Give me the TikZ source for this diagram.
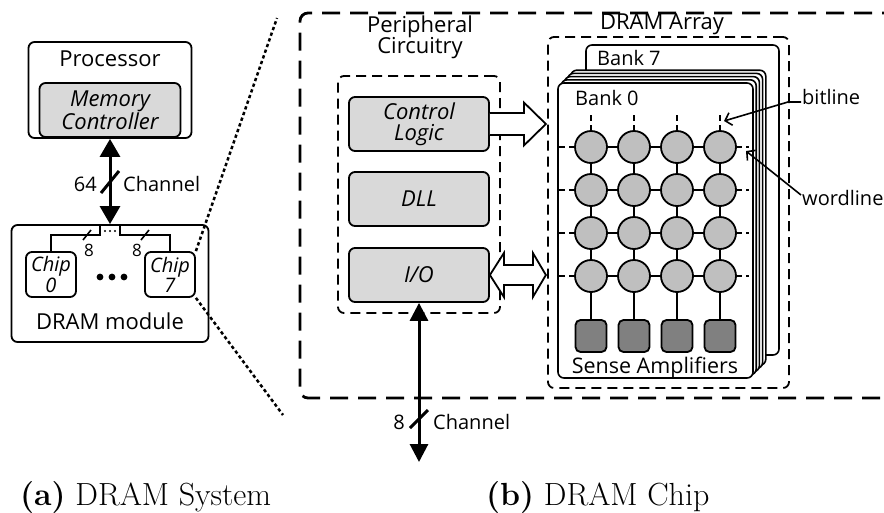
\documentclass[tikz,border=0pt]{standalone}
\usepackage{fontspec}
\newfontfamily\osans{Open Sans}
\usetikzlibrary{arrows.meta,calc}
\definecolor{lgray}{HTML}{D9D9D9}
\definecolor{cgray}{HTML}{BFBFBF}
\definecolor{dgray}{HTML}{808080}
\begin{document}
\begin{tikzpicture}[x=1pt,y=-1pt,
  txt/.style={font=\osans\fontsize{20}{21}\selectfont, inner sep=0pt, align=center},
  ttl/.style={font=\osans\fontsize{22}{21.5}\selectfont, inner sep=0pt, align=center},
  itxt/.style={font=\osans\itshape\fontsize{22}{21}\selectfont, inner sep=0pt, align=center},
  smalltxt/.style={font=\osans\fontsize{17}{18}\selectfont, inner sep=0pt},
  outerbox/.style={draw, line width=1.8pt, rounded corners=6pt, fill=white, inner sep=0pt},
  graybox/.style={draw, line width=1.8pt, rounded corners=6pt, fill=lgray, inner sep=0pt},
  bankbox/.style={draw, line width=1.6pt, rounded corners=6pt, fill=white},
  dashbox/.style={draw, line width=1.8pt, dash pattern=on 10pt off 6pt, rounded corners=6pt},
  bigdash/.style={draw, line width=2.8pt, dash pattern=on 18pt off 10pt, rounded corners=8pt},
  bus/.style={line width=3pt, {Triangle[length=18pt,width=20pt]}-{Triangle[length=18pt,width=20pt]}},
  slashline/.style={line width=3pt},
  thinline/.style={line width=1.6pt},
  zoomline/.style={line width=2.5pt, dash pattern=on 3.3pt off 2.7pt},
  blockarrow/.style={draw, line width=1.8pt, fill=white, line join=miter},
  cell/.style={circle, draw, line width=1.8pt, fill=cgray, minimum size=32pt, inner sep=0pt},
  amp/.style={draw, line width=1.8pt, fill=dgray, rounded corners=5pt, minimum width=31pt, minimum height=32pt, inner sep=0pt},
  stub/.style={line width=1.6pt, dash pattern=on 6pt off 4pt},
  ptr/.style={line width=1.6pt, -{Straight Barb[length=6pt,width=13pt]}},
  caption/.style={font=\fontsize{32}{34}\selectfont, inner sep=0pt, anchor=base west}
]
\useasboundingbox (0,0) rectangle (884,512);
\clip (0,0) rectangle (884,512);

% ---------------- (a) DRAM System ----------------
\node[outerbox, minimum width=163pt, minimum height=96pt] (proc) at (110,90) {};
\node[ttl] (proctxt) at (110,59) {Processor};
\node[graybox, minimum width=141pt, minimum height=54pt, itxt] (mc) at (110,110) {Memory\\Controller};

\node[outerbox, minimum width=197pt, minimum height=117pt] (mod) at (110,283.5) {};
\node[ttl] (modtxt) at (110,321) {DRAM module};

\node[outerbox, minimum width=50pt, minimum height=45pt, itxt, font=\osans\itshape\fontsize{20}{19}\selectfont] (chip0) at (51,274.5) {Chip\\0};
\node[outerbox, minimum width=50pt, minimum height=45pt, itxt, font=\osans\itshape\fontsize{20}{19}\selectfont] (chip7) at (170,274.5) {Chip\\7};

\draw[bus] (proc.south) -- (mod.north);
\coordinate (s64) at (110,182);
\draw[slashline] ($(s64)+(-9,11)$) -- ($(s64)+(9,-11)$);
\node[txt, anchor=east] (l64) at (97,184) {64};
\node[txt, anchor=west] (ch64) at (123,184) {Channel};

\coordinate (busL) at (100,225);
\coordinate (busR) at (120,225);
\draw[thinline] (busL) -- ++(0,10) -| (chip0.north);
\draw[thinline] (busR) -- ++(0,10) -| (chip7.north);
\foreach \xx in {105,110,115} \fill (\xx,231) circle (1.1pt);
\draw[thinline] (83,240) -- (91,230);
\draw[thinline] (141,240) -- (149,230);
\node[smalltxt] (n8a) at (89,250) {8};
\node[smalltxt] (n8b) at (137,250) {8};
\foreach \xx in {100,112,124} \fill (\xx,277) circle (3.4pt);

\node[caption] (capa) at (20,505) {\textbf{(a)} DRAM System};

% ---------------- zoom lines ----------------
\coordinate (ztop) at (277,18);
\coordinate (zbot) at (283,415);
\draw[zoomline] (chip7.north east) -- (ztop);
\draw[zoomline] (chip7.south east) -- (zbot);

% ---------------- (b) DRAM Chip ----------------
\draw[bigdash] (900,13) -- (300,13) -- (300,398) -- (900,398);

\node[ttl] (pctxt) at (420,37.5) {Peripheral\\Circuitry};
\node[dashbox, minimum width=162pt, minimum height=237pt] (periph) at (419,194.5) {};
\node[graybox, minimum width=140pt, minimum height=54pt, itxt] (ctrl) at (419,124) {Control\\Logic};
\node[graybox, minimum width=140pt, minimum height=54pt, itxt] (dll) at (419,199) {DLL};
\node[graybox, minimum width=140pt, minimum height=54pt, itxt] (io) at (419,275) {I/O};

% block arrows
\draw[blockarrow] ($(ctrl.east)+(0,-11)$) -- ++(34,0) -- ++(0,-10.5) -- ++(22,21.5) -- ++(-22,21.5) -- ++(0,-10.5) -- ++(-34,0);
\draw[blockarrow] (io.east) -- ++(14,-22) -- ++(0,12) -- ++(29,0) -- ++(0,-12) -- ++(13,22) -- ++(-13,22) -- ++(0,-12) -- ++(-29,0) -- ++(0,12) -- cycle;

% channel of chip
\coordinate (chanend) at (419,462);
\draw[line width=3pt, {Triangle[length=18pt,width=18pt]}-{Triangle[length=18pt,width=18pt]}] (io.south) -- (chanend);
\coordinate (s8) at (419,419);
\draw[slashline] ($(s8)+(-9,9)$) -- ($(s8)+(9,-9)$);
\node[txt, anchor=east] (l8) at (405,422) {8};
\node[txt, anchor=west] (ch8) at (433,422) {Channel};

% DRAM array
\node[ttl] (arrtxt) at (662,24) {DRAM Array};
\node[dashbox, minimum width=241pt, minimum height=351pt] (arr) at (668.5,212.5) {};

\path[bankbox] (586,45) rectangle (779,355);
\node[txt, anchor=west] (b7) at (597,58) {Bank 7};
\foreach \k in {4,3,2,1} {
  \path[bankbox] ($(558,83)+(3.2*\k,-3.2*\k)$) rectangle ($(753,378)+(3.2*\k,-3.2*\k)$);
}
\path[bankbox] (558,83) rectangle (753,378);
\node[txt, anchor=west] (b0) at (575,98) {Bank 0};

% grid lines
\foreach \r/\yy in {1/147,2/190,3/233,4/276} {
  \draw[stub] (559,\yy) -- (575,\yy);
  \draw[thinline] (591,\yy) -- (720,\yy);
  \draw[stub] (736,\yy) -- (749,\yy);
}
\foreach \c/\xx in {1/591,2/634,3/677,4/720} {
  \draw[stub] (\xx,115) -- (\xx,131);
  \node[amp] (sa\c) at (\xx,336) {};
  \draw[thinline] (\xx,147) -- (sa\c.north);
}
\foreach \r/\yy in {1/147,2/190,3/233,4/276} {
  \foreach \c/\xx in {1/591,2/634,3/677,4/720} {
    \node[cell] (c\r\c) at (\xx,\yy) {};
  }
}
\node[font=\osans\fontsize{21.5}{22}\selectfont, inner sep=0pt] (satxt) at (655,368) {Sense Amplifiers};

% labels
\node[txt, anchor=west] (bl) at (802,97) {bitline};
\node[txt, anchor=west] (wl) at (802,198) {wordline};
\coordinate (bltip) at (724,121);
\coordinate (wltip) at (746,151);
\draw[ptr] ($(bl.west)+(-1,5)$) -- ++(-13,0) -- (bltip);
\draw[ptr] ($(wl.west)+(-1,-3)$) -- (wltip);

\node[caption] (capb) at (486,505) {\textbf{(b)} DRAM Chip};
\end{tikzpicture}
\end{document}
